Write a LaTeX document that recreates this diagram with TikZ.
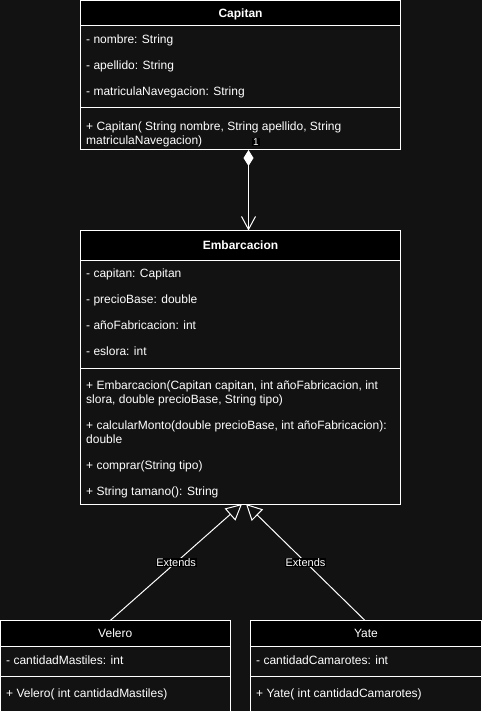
\documentclass[tikz,border=0pt]{standalone}
\usepackage{fontspec}
\setmainfont{Liberation Sans}
\usetikzlibrary{arrows.meta}
\definecolor{bg}{HTML}{121212}
\tikzset{
  box/.style={draw=white, line width=1pt, fill=bg, anchor=north west, inner sep=0pt, outer sep=0pt},
  head/.style={box, fill=black, text=white, text height=8.6pt, text depth=0pt, font=\fontsize{12}{14}\selectfont\bfseries},
  subhead/.style={head, font=\fontsize{12}{14}\selectfont},
  member/.style={anchor=base west, inner sep=0pt, text=white, align=left, font=\fontsize{12}{14}\selectfont},
  link/.style={draw=white, line width=1pt},
  tag/.style={fill=black, text=white, inner sep=0.6pt, font=\fontsize{11}{12}\selectfont},
  mult/.style={fill=black, text=white, inner sep=1pt, font=\fontsize{10}{11}\selectfont}
}
\begin{document}
\begin{tikzpicture}[x=1pt,y=-1pt]
\fill[bg] (0,0) rectangle (482,711);
\useasboundingbox (0,0) rectangle (482,711);
\node[head, minimum width=320pt, minimum height=25.5pt] (capitanHead) at (80.5,0.5) {Capitan};
\node[box, minimum width=320pt, minimum height=82pt] (capitanAttr) at (capitanHead.south west) {};
\node[box, minimum width=320pt, minimum height=42pt] (capitanOps) at (capitanAttr.south west) {};
\node[member] (nombre) at (86,44) {- nombre: String};
\node[member] (apellido) at (86,70) {- apellido: String};
\node[member] (matricula) at (86,96) {- matriculaNavegacion: String};
\node[member] (capitanCtor) at (86,144.5) {+ Capitan( String nombre, String apellido, String\\matriculaNavegacion)};
\node[head, minimum width=320pt, minimum height=29.5pt] (embHead) at (80.5,230.5) {Embarcacion};
\node[box, minimum width=320pt, minimum height=108pt] (embAttr) at (embHead.south west) {};
\node[box, minimum width=320pt, minimum height=136pt] (embOps) at (embAttr.south west) {};
\node[member] (capitan) at (86,277.5) {- capitan: Capitan};
\node[member] (precioBase) at (86,303.5) {- precioBase: double};
\node[member] (anio) at (86,329.5) {- añoFabricacion: int};
\node[member] (eslora) at (86,355.5) {- eslora: int};
\node[member] (embCtor) at (86,403.5) {+ Embarcacion(Capitan capitan, int añoFabricacion, int\\slora, double precioBase, String tipo)};
\node[member] (calcular) at (86,443.5) {+ calcularMonto(double precioBase, int añoFabricacion):\\double};
\node[member] (comprar) at (86,469.5) {+ comprar(String tipo)};
\node[member] (tamano) at (86,495.5) {+ String tamano(): String};
\node[subhead, minimum width=229.5pt, minimum height=25.5pt] (veleroHead) at (0.5,620.5) {Velero};
\node[box, minimum width=229.5pt, minimum height=30pt] (veleroAttr) at (veleroHead.south west) {};
\node[box, minimum width=229.5pt, minimum height=40pt] (veleroOps) at (veleroAttr.south west) {};
\node[member] (mastiles) at (6,664) {- cantidadMastiles: int};
\node[member] (veleroCtor) at (6,697.5) {+ Velero( int cantidadMastiles)};
\node[subhead, minimum width=231pt, minimum height=25.5pt] (yateHead) at (250.5,620.5) {Yate};
\node[box, minimum width=231pt, minimum height=30pt] (yateAttr) at (yateHead.south west) {};
\node[box, minimum width=231pt, minimum height=40pt] (yateOps) at (yateAttr.south west) {};
\node[member] (camarotes) at (256,664) {- cantidadCamarotes: int};
\node[member] (yateCtor) at (256,697.5) {+ Yate( int cantidadCamarotes)};
\draw[link, {Diamond[length=16pt,width=10pt]}-{Straight Barb[length=13pt,width=14pt]}] ([xshift=8pt]capitanOps.south) -- ([xshift=8pt]embHead.north);
\node[mult] (uno) at (256,142) {1};
\draw[link, -{Triangle[open,length=16pt,width=16pt]}] ([xshift=-5pt]veleroHead.north) -- node[tag] (extVelero) {Extends} ([xshift=1.5pt]embOps.south);
\draw[link, -{Triangle[open,length=16pt,width=16pt]}] ([xshift=-1pt]yateHead.north) -- node[tag] (extYate) {Extends} ([xshift=5.5pt]embOps.south);
\end{tikzpicture}
\end{document}
